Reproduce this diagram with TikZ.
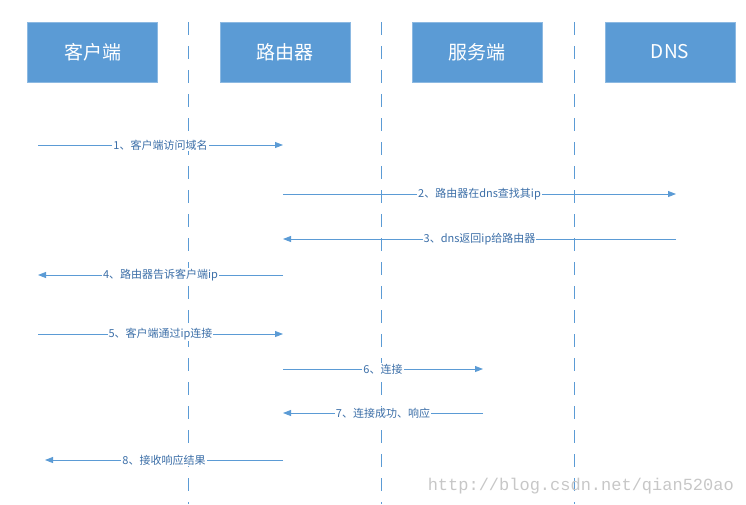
\documentclass[tikz,border=0pt]{standalone}
\usepackage{fontspec}
\setmainfont{Noto Sans CJK SC}
\newfontfamily\wmfont{Liberation Mono}
\usetikzlibrary{arrows.meta}
\definecolor{boxblue}{HTML}{5B9BD5}
\definecolor{lineblue}{HTML}{5B9BD5}
\definecolor{txtblue}{HTML}{3C6FA8}
\tikzset{
  actor/.style={draw=boxblue!70!white, fill=boxblue, text=white, minimum width=130pt, minimum height=60pt, inner sep=0pt, font=\fontsize{19}{22}\selectfont},
  life/.style={draw=lineblue, line width=1pt, dash pattern=on 13pt off 11pt},
  msg/.style={draw=lineblue, line width=0.9pt, -{Triangle[length=8pt,width=6pt]}},
  lbl/.style={fill=white, text=txtblue, inner sep=1pt, font=\fontsize{11}{13}\selectfont},
}
\begin{document}
\begin{tikzpicture}[x=1pt,y=-1pt]
\useasboundingbox (0,0) rectangle (746,504);
\foreach \n/\x in {l1/188,l2/381,l3/574}{
  \coordinate (\n t) at (\x,22); \coordinate (\n b) at (\x,504);
  \draw[life] (\n t) -- (\n b);
}
\node[actor] (c) at (92.5,52) {客户端};
\node[actor] (r) at (285,52) {路由器};
\node[actor] (s) at (477,52) {服务端};
\node[actor] (d) at (670,52) {DNS};
\foreach \n/\x/\y in {a1/38/145,b1/283/145, a2/283/194,b2/676/194, a3/676/239,b3/283/239,
  a4/283/275,b4/38/275, a5/38/334,b5/283/334, a6/283/369,b6/483/369, a7/483/413,b7/283/413,
  a8/283/460,b8/45/460}
  \coordinate (\n) at (\x,\y);
\draw[msg] (a1) -- node[lbl]{1、客户端访问域名} (b1);
\draw[msg] (a2) -- node[lbl,pos=0.5]{2、路由器在dns查找其ip} (b2);
\draw[msg] (a3) -- node[lbl,pos=0.5]{3、dns返回ip给路由器} (b3);
\draw[msg] (a4) -- node[lbl]{4、路由器告诉客户端ip} (b4);
\draw[msg] (a5) -- node[lbl]{5、客户端通过ip连接} (b5);
\draw[msg] (a6) -- node[lbl]{6、连接} (b6);
\draw[msg] (a7) -- node[lbl]{7、连接成功、响应} (b7);
\draw[msg] (a8) -- node[lbl]{8、接收响应结果} (b8);
\node[text=black!22, font=\wmfont\fontsize{17}{20}\selectfont, anchor=east, inner sep=0pt] (wm) at (734,486) {http://blog.csdn.net/qian520ao};
\end{tikzpicture}
\end{document}
